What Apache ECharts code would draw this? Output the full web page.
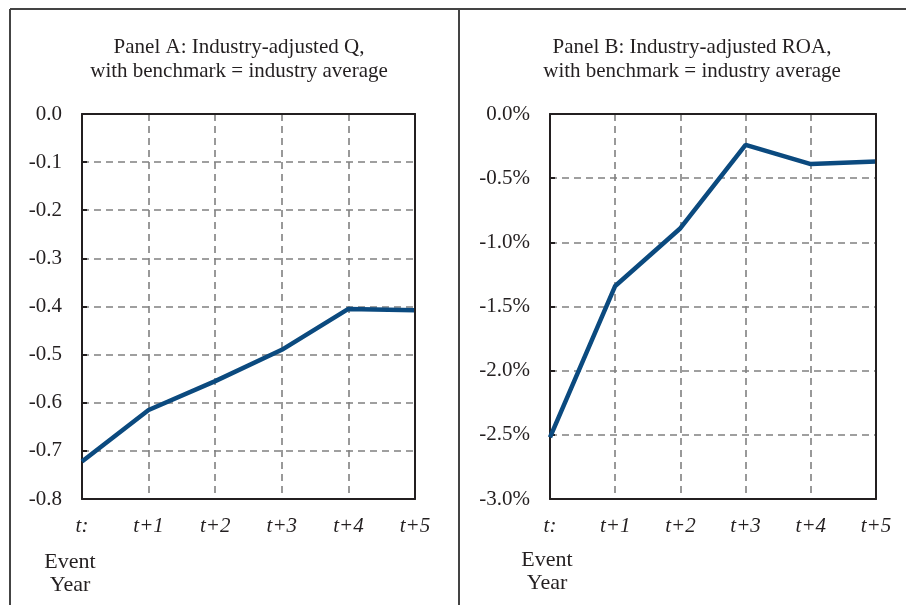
<!DOCTYPE html>
<html>
<head>
<meta charset="utf-8">
<script src="https://cdn.jsdelivr.net/npm/echarts@6/dist/echarts.min.js"></script>
<style>
html,body{margin:0;padding:0;background:#fff;}
#c{width:906px;height:605px;}
</style>
</head>
<body>
<div id="c"></div>
<script>
const categories = ['t:', 't+1', 't+2', 't+3', 't+4', 't+5'];
const panelAValues = [-0.722, -0.615, -0.555, -0.490, -0.405, -0.408];
const panelBValues = [-2.52, -1.34, -0.89, -0.24, -0.39, -0.37];
const panelATitle = 'Panel A: Industry-adjusted Q,\nwith benchmark = industry average';
const panelBTitle = 'Panel B: Industry-adjusted ROA,\nwith benchmark = industry average';
const xAxisTitle = 'Event\nYear';

const FONT = '"Liberation Serif", "DejaVu Serif", serif';
const TXT = '#231f20';
const LINE = '#0b4a7f';
const FRAME = '#231f20';
const DASH = {color: '#808080', width: 1.6, type: [7, 5]};

const chart = echarts.init(document.getElementById('c'), null, {renderer: 'canvas'});

function xAxis(gridIndex) {
  return {
    type: 'category', gridIndex, data: categories, boundaryGap: false, position: 'bottom',
    axisLine: {show: true, onZero: false, lineStyle: {color: FRAME, width: 2}},
    axisTick: {show: false},
    axisLabel: {color: TXT, fontFamily: FONT, fontStyle: 'italic', fontSize: 21, margin: 17},
    splitLine: {show: true, showMinLine: false, showMaxLine: false, lineStyle: DASH}
  };
}
function xAxisTop(gridIndex) {
  return {
    type: 'category', gridIndex, data: categories, boundaryGap: false, position: 'top',
    axisLine: {show: true, onZero: false, lineStyle: {color: FRAME, width: 2}},
    axisTick: {show: false}, axisLabel: {show: false}, splitLine: {show: false}, z: 10
  };
}
function yAxis(gridIndex, min, max, interval, fmt) {
  return {
    type: 'value', gridIndex, min, max, interval, position: 'left',
    axisLine: {show: true, onZero: false, lineStyle: {color: FRAME, width: 2}},
    axisTick: {show: true, inside: true, length: 5, lineStyle: {color: FRAME, width: 2}},
    axisLabel: {color: TXT, fontFamily: FONT, fontSize: 21, margin: 20, formatter: fmt},
    splitLine: {show: true, showMinLine: false, showMaxLine: false, lineStyle: DASH}
  };
}
function yAxisRight(gridIndex, min, max, interval) {
  return {
    type: 'value', gridIndex, min, max, interval, position: 'right',
    axisLine: {show: true, onZero: false, lineStyle: {color: FRAME, width: 2}},
    axisTick: {show: false}, axisLabel: {show: false}, splitLine: {show: false}, z: 10
  };
}
const fmtA = v => (Math.abs(v) < 1e-9 ? 0 : v).toFixed(1);
const fmtB = v => (Math.abs(v) < 1e-9 ? 0 : v).toFixed(1) + '%';

chart.setOption({
  animation: false,
  backgroundColor: '#fff',
  title: [
    {text: panelATitle, left: 234, top: 30, textAlign: 'center',
     textStyle: {fontFamily: FONT, fontWeight: 'normal', fontSize: 21, color: TXT, lineHeight: 24}},
    {text: panelBTitle, left: 687, top: 30, textAlign: 'center',
     textStyle: {fontFamily: FONT, fontWeight: 'normal', fontSize: 21, color: TXT, lineHeight: 24}}
  ],
  grid: [
    {left: 82, top: 114, width: 333, height: 385},
    {left: 550, top: 114, width: 326, height: 385}
  ],
  xAxis: [xAxis(0), xAxis(1), xAxisTop(0), xAxisTop(1)],
  yAxis: [
    yAxis(0, -0.8, 0, 0.1, fmtA),
    yAxis(1, -3, 0, 0.5, fmtB),
    yAxisRight(0, -0.8, 0, 0.1),
    yAxisRight(1, -3, 0, 0.5)
  ],
  series: [
    {type: 'line', xAxisIndex: 0, yAxisIndex: 0, data: panelAValues, symbol: 'none',
     lineStyle: {color: LINE, width: 4.5}, z: 5},
    {type: 'line', xAxisIndex: 1, yAxisIndex: 1, data: panelBValues, symbol: 'none',
     lineStyle: {color: LINE, width: 4.5}, z: 5}
  ],
  graphic: [
    {type: 'line', shape: {x1: 10, y1: 9, x2: 906, y2: 9}, style: {stroke: '#444', lineWidth: 2}},
    {type: 'line', shape: {x1: 10, y1: 9, x2: 10, y2: 605}, style: {stroke: '#444', lineWidth: 2}},
    {type: 'line', shape: {x1: 459, y1: 9, x2: 459, y2: 605}, style: {stroke: '#444', lineWidth: 2}},
    {type: 'text', x: 70, y: 551, style: {text: xAxisTitle, font: '22px ' + FONT, fill: TXT, lineHeight: 23, align: 'center'}},
    {type: 'text', x: 547, y: 549, style: {text: xAxisTitle, font: '22px ' + FONT, fill: TXT, lineHeight: 23, align: 'center'}}
  ]
});
</script>
</body>
</html>
